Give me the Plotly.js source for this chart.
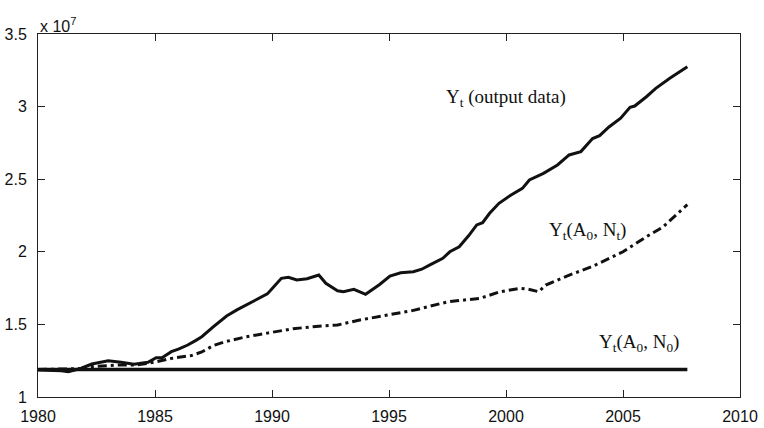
<!DOCTYPE html>
<html>
<head>
<meta charset="utf-8">
<script src="https://cdn.plot.ly/plotly-3.0.1.min.js"></script>
<style>html,body{margin:0;padding:0;background:#fff;}#chart{width:764px;height:428px;}</style>
</head>
<body>
<div id="chart"></div>
<script>
// Y_t (output data), units of 10^7
const outYears = [1980.0,1980.5,1981.0,1981.3,1981.85,1982.3,1982.7,1983.0,1983.55,1984.1,1984.7,1985.05,1985.3,1985.7,1986.0,1986.4,1986.75,1987.0,1987.5,1988.06,1988.5,1988.9,1989.5,1989.8,1990.0,1990.4,1990.7,1991.06,1991.5,1992.0,1992.3,1992.8,1993.05,1993.5,1994.0,1994.6,1995.04,1995.5,1996.04,1996.4,1996.75,1997.3,1997.6,1998.0,1998.4,1998.75,1999.0,1999.3,1999.7,2000.2,2000.7,2001.0,2001.6,2002.2,2002.7,2003.2,2003.7,2004.0,2004.4,2004.9,2005.3,2005.5,2006.0,2006.4,2007.0,2007.75];
const outValues = [1.186,1.184,1.18,1.174,1.198,1.227,1.243,1.25,1.239,1.225,1.239,1.271,1.27,1.312,1.33,1.358,1.39,1.415,1.484,1.558,1.60,1.634,1.69,1.71,1.745,1.817,1.824,1.806,1.815,1.84,1.783,1.732,1.725,1.742,1.707,1.775,1.833,1.855,1.863,1.88,1.91,1.955,2.0,2.035,2.11,2.185,2.20,2.265,2.334,2.39,2.437,2.495,2.54,2.598,2.667,2.69,2.78,2.80,2.86,2.92,2.995,3.004,3.068,3.126,3.195,3.275];
// Y_t(A_0, N_t)
const ntYears = [1980.0,1981.0,1981.8,1982.3,1983.0,1983.35,1984.2,1985.0,1985.7,1986.55,1987.0,1987.5,1987.98,1988.55,1988.9,1989.8,1990.9,1991.75,1992.8,1993.75,1994.6,1995.0,1996.0,1997.5,1998.9,1999.75,2000.6,2000.95,2001.4,2001.7,2002.6,2003.7,2005.0,2006.0,2006.7,2007.75];
const ntValues = [1.19,1.19,1.195,1.21,1.22,1.22,1.22,1.24,1.266,1.285,1.31,1.355,1.38,1.404,1.415,1.44,1.47,1.484,1.496,1.53,1.553,1.565,1.595,1.655,1.68,1.725,1.749,1.742,1.725,1.771,1.833,1.90,2.0,2.104,2.17,2.325];
// Y_t(A_0, N_0)
const n0Years = [1980.0,2007.75];
const n0Values = [1.19,1.19];

const labelOut = "Y<sub>t</sub> (output data)";
const labelNt = "Y<sub>t</sub>(A<sub>0</sub>, N<sub>t</sub>)";
const labelN0 = "Y<sub>t</sub>(A<sub>0</sub>, N<sub>0</sub>)";
const xTicks = [1980,1985,1990,1995,2000,2005,2010];
const yTicks = [1,1.5,2,2.5,3,3.5];
const yTickText = ["1","1.5","2","2.5","3","3.5"];

const ink = "#111";
const traces = [
  {x:n0Years, y:n0Values, mode:"lines", line:{color:ink, width:3.5}},
  {x:ntYears, y:ntValues, mode:"lines", line:{color:ink, width:3, dash:"9px,4px,3px,4px"}},
  {x:outYears, y:outValues, mode:"lines", line:{color:ink, width:3}}
];
const axisCommon = {
  showgrid:false, zeroline:false, showline:true, linecolor:"#222", linewidth:1,
  mirror:"ticks", ticks:"inside", ticklen:7, tickcolor:"#222", tickwidth:1,
  tickfont:{family:"Liberation Sans, Arial, sans-serif", size:16, color:"#111"}
};
const serif = {family:"Liberation Serif, Times New Roman, serif", size:19, color:"#111"};
const layout = {
  width:764, height:428,
  margin:{l:38, r:24, t:34, b:31},
  paper_bgcolor:"#fff", plot_bgcolor:"#fff",
  showlegend:false,
  xaxis:Object.assign({}, axisCommon, {range:[1980,2010], tickvals:xTicks, ticktext:xTicks.map(String), ticklabelstandoff:5}),
  yaxis:Object.assign({}, axisCommon, {range:[1,3.5], tickvals:yTicks, ticktext:yTickText, ticklabelstandoff:7}),
  annotations:[
    {xref:"paper", yref:"paper", x:0.0, y:1, xanchor:"left", yanchor:"bottom", yshift:-3, showarrow:false,
     text:"x 10<sup>7</sup>", font:{family:"Liberation Sans, Arial, sans-serif", size:16, color:"#111"}},
    {xref:"x", yref:"y", x:2000.0, y:3.06, showarrow:false, text:labelOut, font:serif},
    {xref:"x", yref:"y", x:2003.5, y:2.14, showarrow:false, text:labelNt, font:serif},
    {xref:"x", yref:"y", x:2005.7, y:1.37, showarrow:false, text:labelN0, font:serif}
  ]
};
Plotly.newPlot("chart", traces, layout, {staticPlot:true, displayModeBar:false});
</script>
</body>
</html>
